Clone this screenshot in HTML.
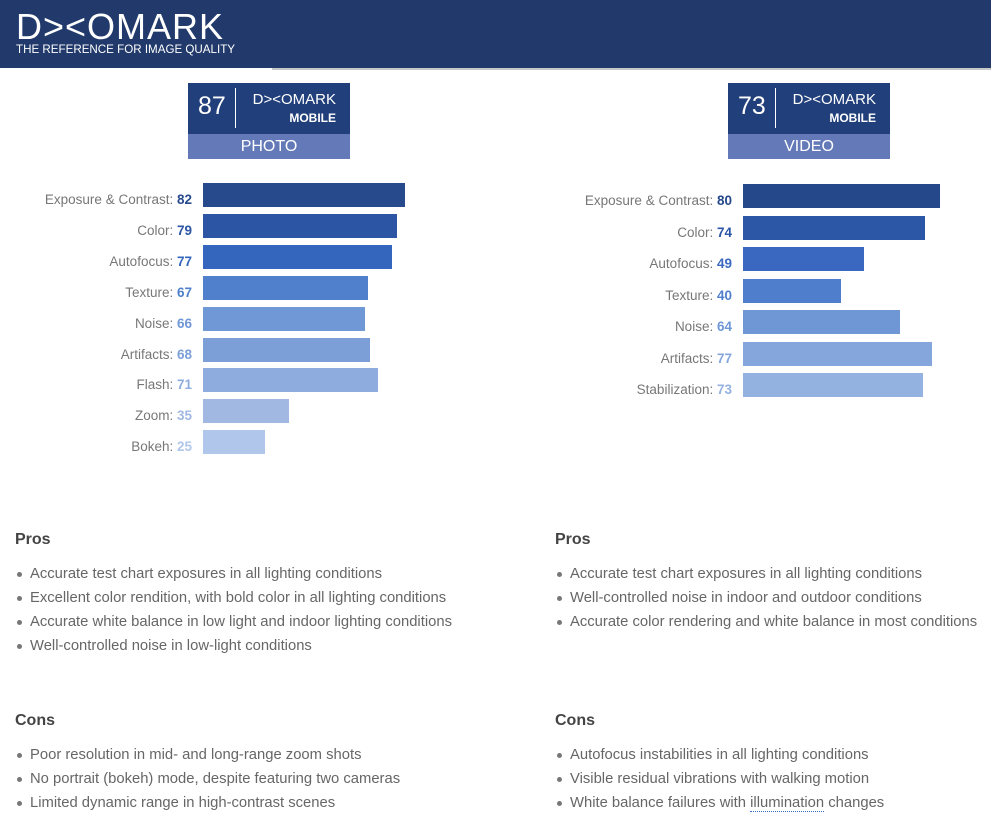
<!DOCTYPE html>
<html><head><meta charset="utf-8"><style>
body{margin:0;width:991px;height:822px;overflow:hidden;background:#fff;font-family:"Liberation Sans",sans-serif;position:relative}
.hdr{position:absolute;left:0;top:0;width:991px;height:68px;background:#213a6b}
.hline{position:absolute;left:272px;top:68px;width:719px;height:2px;background:#c8c8c8}
.logo{position:absolute;left:16px;top:6px;color:#fff;font-size:36px;letter-spacing:1px;font-weight:normal}
.tag{position:absolute;left:16px;top:43px;color:#fff;font-size:11.6px}
.badge{position:absolute;width:162px;height:76px;background:#213f7a}
.badge .num{position:absolute;left:10px;top:9px;color:#fff;font-size:25px}
.badge .sep{position:absolute;left:47px;top:5px;width:1px;height:40px;background:#fff}
.badge .brand{position:absolute;right:14px;top:8px;color:#fff;font-size:15px}
.badge .mob{position:absolute;right:14px;top:28px;color:#fff;font-size:12px;font-weight:bold}
.badge .lab{position:absolute;left:0;bottom:0;width:162px;height:25px;background:#6479b8;color:#fff;font-size:16px;text-align:center;line-height:25px}
.lbl{position:absolute;text-align:right;font-size:13.5px;color:#777;width:190px}
.lbl b{font-weight:bold}
.bar{position:absolute;height:24px}
h3{position:absolute;margin:0;font-size:16px;color:#444;font-weight:bold}
ul{position:absolute;margin:0;padding:0;list-style:none}
li{font-size:14.8px;color:#666;height:24px;line-height:20px;padding-left:15px;position:relative;white-space:nowrap}
li:before{content:"";position:absolute;left:2px;top:8px;width:5px;height:5px;border-radius:50%;background:#777}
</style></head><body>
<div class="hdr">
<div class="logo">D&gt;&lt;OMARK</div>
<div class="tag">THE REFERENCE FOR IMAGE QUALITY</div></div>
<div class="hline"></div>
<div class="badge" style="left:188px;top:83px"><div class="num">87</div><div class="sep"></div><div class="brand">D&gt;&lt;OMARK</div><div class="mob">MOBILE</div><div class="lab">PHOTO</div></div>
<div class="badge" style="left:728px;top:83px"><div class="num">73</div><div class="sep"></div><div class="brand">D&gt;&lt;OMARK</div><div class="mob">MOBILE</div><div class="lab">VIDEO</div></div>
<div id="charts"></div>
<h3 style="left:15px;top:531px">Pros</h3>
<ul style="left:15px;top:564px">
<li>Accurate test chart exposures in all lighting conditions</li><li>Excellent color rendition, with bold color in all lighting conditions</li><li>Accurate white balance in low light and indoor lighting conditions</li><li>Well-controlled noise in low-light conditions</li></ul>
<h3 style="left:555px;top:531px">Pros</h3>
<ul style="left:555px;top:564px">
<li>Accurate test chart exposures in all lighting conditions</li><li>Well-controlled noise in indoor and outdoor conditions</li><li>Accurate color rendering and white balance in most conditions</li></ul>
<h3 style="left:15px;top:712px">Cons</h3>
<ul style="left:15px;top:745px">
<li>Poor resolution in mid- and long-range zoom shots</li><li>No portrait (bokeh) mode, despite featuring two cameras</li><li>Limited dynamic range in high-contrast scenes</li></ul>
<h3 style="left:555px;top:712px">Cons</h3>
<ul style="left:555px;top:745px">
<li>Autofocus instabilities in all lighting conditions</li><li>Visible residual vibrations with walking motion</li><li>White balance failures with <span style="border-bottom:1px dotted #3a6ac0">illumination</span> changes</li></ul>
<script>
const photoCategories=["Exposure & Contrast","Color","Autofocus","Texture","Noise","Artifacts","Flash","Zoom","Bokeh"];
const photoValues=[82,79,77,67,66,68,71,35,25];
const photoColors=["#274a8c","#2c55a3","#3466be","#5080cc","#7098d6","#7c9fd8","#8eadde","#a0b8e2","#b0c6ea"];
const videoCategories=["Exposure & Contrast","Color","Autofocus","Texture","Noise","Artifacts","Stabilization"];
const videoValues=[80,74,49,40,64,77,73];
const videoColors=["#25488a","#2c56a6","#3a68c0","#4f7fcc","#6f97d6","#84a6dc","#94b2e0"];
const scale=v=>v*2.46;
function draw(cats,vals,cols,x0,y0,pitch,pre){
 const c=document.getElementById('charts');
 cats.forEach((cat,i)=>{
  const y=y0+i*pitch;
  const l=document.createElement('div');
  l.className='lbl';l.style.left=(x0-201)+'px';l.style.top=(y+9)+'px';
  l.innerHTML=cat+': <b style="color:'+cols[i]+'">'+vals[i]+'</b>';
  
  
  c.appendChild(l);
  const b=document.createElement('div');
  b.className='bar';b.style.left=x0+'px';b.style.top=y+'px';
  b.style.width=scale(vals[i])+'px';b.style.background=cols[i];
  
  
  c.appendChild(b);
 });
}
draw(photoCategories,photoValues,photoColors,203,183,30.9,'photo');
draw(videoCategories,videoValues,videoColors,743,184,31.5,'video');
</script>
</body></html>
